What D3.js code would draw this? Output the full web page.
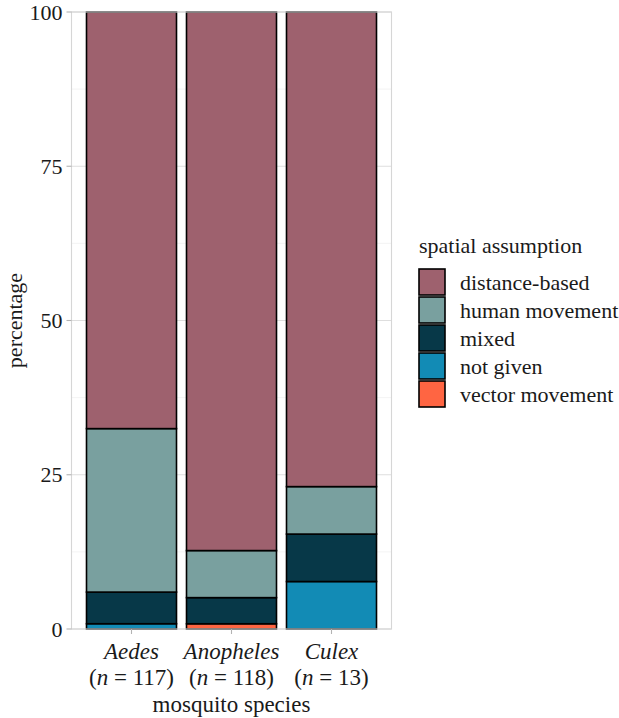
<!DOCTYPE html>
<html>
<head>
<meta charset="utf-8">
<script src="https://cdn.jsdelivr.net/npm/d3@7"></script>
<style>
  body { margin: 0; background: #fff; }
  svg, svg text, svg tspan { font-family: "Liberation Serif", serif; fill: #1a1a1a; }
</style>
</head>
<body>
<div id="chart"></div>
<script>
// species and study counts per spatial assumption
var species = ["Aedes", "Anopheles", "Culex"];
var totals = [117, 118, 13];
var assumptions = ["distance-based", "human movement", "mixed", "not given", "vector movement"];
var colours = ["#9e616e", "#79a09f", "#073848", "#128bb5", "#ff6542"];

var distanceBased = [79, 103, 10];
var humanMovement = [31, 9, 1];
var mixed = [6, 5, 1];
var notGiven = [1, 0, 1];
var vectorMovement = [0, 1, 0];

var yTicks = [0, 25, 50, 75, 100];
var yMinor = [12.5, 37.5, 62.5, 87.5];

var W = 619, H = 718;
var margin = {top: 12, left: 71.5, right: 227.5, bottom: 89};
var width = W - margin.left - margin.right,
    height = H - margin.top - margin.bottom;

var series = [distanceBased, humanMovement, mixed, notGiven, vectorMovement];

// percentages per species (position = "fill")
var rows = species.map(function(s, i) {
  var r = {species: s};
  assumptions.forEach(function(a, j) { r[a] = series[j][i] / totals[i] * 100; });
  return r;
});

// ggplot stacks the last level at the bottom
var stacked = d3.stack().keys(assumptions.slice().reverse())(rows);

var svg = d3.select("#chart").append("svg")
  .attr("width", W).attr("height", H)
  .attr("font-family", "Liberation Serif, serif");

var g = svg.append("g")
  .attr("transform", "translate(" + margin.left + "," + margin.top + ")");

// discrete axis: 3 bars of width 0.9, expanded 0.6 each side
var x = d3.scalePoint().domain(species)
  .range([width * 0.6 / 3.2, width * 2.6 / 3.2]);
var bw = width / 3.2 * 0.9;

var y = d3.scaleLinear().domain([0, 100]).range([height, 0]);

// grid
g.selectAll(".minor").data(yMinor).enter().append("line")
  .attr("x1", 0).attr("x2", width)
  .attr("y1", function(d) { return y(d); }).attr("y2", function(d) { return y(d); })
  .attr("stroke", "#ededed").attr("stroke-width", 0.6);
g.selectAll(".major").data(yTicks).enter().append("line")
  .attr("x1", 0).attr("x2", width)
  .attr("y1", function(d) { return y(d); }).attr("y2", function(d) { return y(d); })
  .attr("stroke", "#dedede").attr("stroke-width", 1.1);
g.selectAll(".vgrid").data(species).enter().append("line")
  .attr("x1", function(d) { return x(d); }).attr("x2", function(d) { return x(d); })
  .attr("y1", 0).attr("y2", height)
  .attr("stroke", "#dedede").attr("stroke-width", 1.1);

// bars
g.selectAll(".layer").data(stacked).enter().append("g")
  .attr("fill", function(d) { return colours[assumptions.indexOf(d.key)]; })
  .selectAll("rect").data(function(d) { return d; }).enter().append("rect")
    .attr("x", function(d) { return x(d.data.species) - bw / 2; })
    .attr("width", bw)
    .attr("y", function(d) { return y(d[1]); })
    .attr("height", function(d) { return y(d[0]) - y(d[1]); })
    .attr("stroke", function(d) { return d[1] - d[0] > 0 ? "#000" : "none"; })
    .attr("stroke-width", 1.6);

// panel border
g.append("rect").attr("width", width).attr("height", height)
  .attr("fill", "none").attr("stroke", "#d6d6d6").attr("stroke-width", 1.1);

// y axis
g.selectAll(".ytick").data(yTicks).enter().append("line")
  .attr("x1", -5).attr("x2", 0)
  .attr("y1", function(d) { return y(d); }).attr("y2", function(d) { return y(d); })
  .attr("stroke", "#b3b3b3").attr("stroke-width", 1.1);
g.selectAll(".ylab").data(yTicks).enter().append("text")
  .attr("x", -9).attr("y", function(d) { return y(d); })
  .attr("dy", "0.35em").attr("text-anchor", "end")
  .attr("font-size", 22)
  .text(function(d) { return d; });

// x axis
g.selectAll(".xtick").data(species).enter().append("line")
  .attr("x1", function(d) { return x(d); }).attr("x2", function(d) { return x(d); })
  .attr("y1", height).attr("y2", height + 5)
  .attr("stroke", "#b3b3b3").attr("stroke-width", 1.1);
var xl = g.selectAll(".xlab").data(species).enter().append("text")
  .attr("x", function(d) { return x(d); })
  .attr("y", height + 30)
  .attr("text-anchor", "middle")
  .attr("font-size", 23);
xl.append("tspan").attr("font-style", "italic").text(function(d) { return d; });
xl.append("tspan")
  .attr("x", function(d) { return x(d); }).attr("dy", 26)
  .text("(");
xl.append("tspan").attr("font-style", "italic").text("n");
xl.append("tspan").text(function(d, i) { return " = " + totals[i] + ")"; });

// axis titles
svg.append("text")
  .attr("x", margin.left + width / 2).attr("y", 712)
  .attr("text-anchor", "middle").attr("font-size", 23)
  .text("mosquito species");
svg.append("text")
  .attr("transform", "translate(22," + (margin.top + height / 2) + ") rotate(-90)")
  .attr("text-anchor", "middle").attr("font-size", 22)
  .text("percentage");

// legend
var lg = svg.append("g").attr("transform", "translate(418,268)");
lg.append("text").attr("x", 1).attr("y", -15).attr("font-size", 22).text("spatial assumption");
var item = lg.selectAll(".item").data(assumptions).enter().append("g")
  .attr("transform", function(d, i) { return "translate(0," + i * 28 + ")"; });
item.append("rect").attr("x", 1).attr("y", 1).attr("width", 26).attr("height", 26)
  .attr("fill", function(d, i) { return colours[i]; })
  .attr("stroke", "#000").attr("stroke-width", 1.6);
item.append("text").attr("x", 42).attr("y", 14).attr("dy", "0.35em")
  .attr("font-size", 22)
  .text(function(d) { return d; });
</script>
</body>
</html>
